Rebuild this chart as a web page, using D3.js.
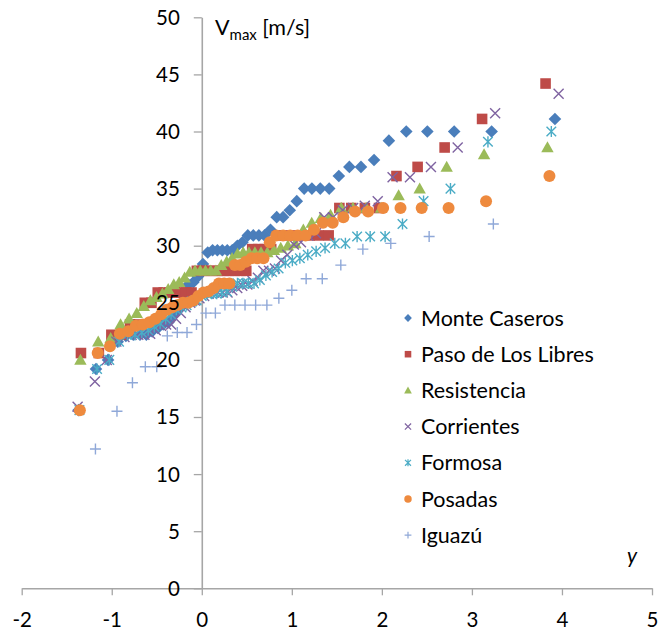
<!DOCTYPE html>
<html><head><meta charset="utf-8">
<script src="https://cdn.jsdelivr.net/npm/d3@7"></script>
<style>body{margin:0;background:#fff} text{font-family:Lato,'Open Sans',sans-serif;fill:#000}</style>
</head><body><svg id="c" width="659" height="630"></svg>
<script>
// ---- data (reduced variate y, Vmax m/s) ----
const seriesNames = ["Monte Caseros","Paso de Los Libres","Resistencia","Corrientes","Formosa","Posadas","Iguazú"];
const xTicks = [-2,-1,0,1,2,3,4,5];
const yTicks = [0,5,10,15,20,25,30,35,40,45,50];

const mcX = [-1.369,-1.175,-1.041,-0.934,-0.843,-0.761,-0.686,-0.616,-0.551,-0.488,-0.428,-0.370,-0.313,-0.257,-0.202,-0.148,-0.094,-0.041,0.013,0.066,0.120,0.173,0.228,0.283,0.338,0.395,0.452,0.511,0.572,0.634,0.697,0.763,0.832,0.903,0.977,1.055,1.137,1.223,1.316,1.415,1.522,1.639,1.768,1.913,2.078,2.271,2.505,2.803,3.219,3.922];
const mcV = [15.6,19.2,20.0,21.6,22.1,22.2,22.2,22.2,22.5,22.8,23.1,23.3,23.9,24.4,25.0,26.6,26.8,27.3,28.4,29.4,29.6,29.6,29.6,29.6,29.6,30.0,30.3,30.9,30.9,30.9,30.9,31.4,32.5,32.5,33.1,33.9,35.0,35.0,35.0,35.0,36.1,36.9,36.9,37.5,39.2,40.0,40.0,40.0,40.0,41.1];

const plX = [-1.342,-1.143,-1.004,-0.893,-0.797,-0.711,-0.633,-0.559,-0.489,-0.423,-0.358,-0.296,-0.234,-0.174,-0.114,-0.055,0.004,0.064,0.123,0.183,0.243,0.305,0.367,0.430,0.494,0.560,0.628,0.698,0.771,0.848,0.928,1.013,1.102,1.197,1.299,1.409,1.528,1.660,1.811,1.968,2.162,2.397,2.697,3.113,3.818];
const plV = [20.6,20.6,22.2,22.2,23.1,23.1,25.0,25.0,25.9,25.9,25.9,25.9,25.9,25.9,25.9,27.8,27.8,27.8,27.8,27.8,27.8,27.8,27.8,27.8,27.8,29.7,29.7,29.7,29.7,30.9,30.9,30.9,30.9,30.9,30.9,30.9,33.3,33.3,33.3,33.3,36.1,36.9,38.6,41.1,44.2];

const reX = [-1.348,-1.150,-1.012,-0.902,-0.807,-0.722,-0.644,-0.571,-0.503,-0.437,-0.373,-0.311,-0.251,-0.191,-0.133,-0.075,-0.017,0.041,0.099,0.157,0.216,0.276,0.336,0.397,0.460,0.524,0.590,0.658,0.728,0.801,0.877,0.956,1.039,1.128,1.221,1.322,1.430,1.549,1.679,1.825,1.991,2.186,2.420,2.720,3.135,3.839];
const reV = [20.0,21.6,21.9,23.1,23.6,24.1,24.7,25.2,25.5,25.8,26.2,26.6,26.8,27.2,27.7,27.8,27.8,27.8,27.8,27.8,28.3,28.6,28.9,29.3,29.4,29.4,29.4,29.4,29.4,29.6,29.8,30.0,30.2,31.4,32.0,32.4,32.7,33.3,33.3,33.3,33.3,34.4,35.0,36.9,38.0,38.6];

const coX = [-1.379,-1.187,-1.055,-0.949,-0.859,-0.779,-0.705,-0.637,-0.573,-0.512,-0.453,-0.396,-0.340,-0.286,-0.233,-0.180,-0.128,-0.077,-0.026,0.026,0.077,0.129,0.181,0.233,0.286,0.339,0.394,0.449,0.506,0.564,0.623,0.684,0.747,0.812,0.880,0.950,1.023,1.101,1.182,1.268,1.360,1.458,1.565,1.681,1.810,1.954,2.119,2.312,2.545,2.842,3.258,3.963];
const coV = [15.9,18.1,20.0,21.6,22.0,22.2,22.2,22.2,22.3,22.6,23.0,23.1,23.1,23.6,24.1,24.6,25.0,25.2,25.4,25.6,25.8,25.9,25.9,25.9,25.9,26.1,26.3,26.5,26.6,26.9,27.2,27.8,27.8,28.0,28.7,29.2,30.1,30.3,30.9,31.1,32.5,32.5,33.1,33.3,33.5,33.9,36.0,36.0,36.9,38.6,41.6,43.3];

const foX = [-1.359,-1.163,-1.027,-0.919,-0.825,-0.742,-0.666,-0.595,-0.528,-0.463,-0.401,-0.341,-0.283,-0.225,-0.169,-0.113,-0.057,-0.001,0.054,0.110,0.166,0.222,0.279,0.337,0.396,0.456,0.517,0.580,0.645,0.712,0.781,0.853,0.928,1.006,1.089,1.177,1.270,1.369,1.477,1.595,1.725,1.870,2.036,2.229,2.463,2.762,3.178,3.882];
const foV = [15.6,19.2,20.0,21.6,22.2,22.2,22.4,22.6,22.9,23.2,23.6,24.0,24.4,24.6,24.8,25.1,25.2,25.6,25.8,25.8,25.8,25.9,26.0,26.4,26.7,26.7,26.7,26.7,27.0,27.4,27.7,28.0,28.5,28.7,28.9,29.2,29.5,29.8,30.2,30.2,30.8,30.8,30.8,31.9,33.9,35.0,39.1,40.0];

const poX = [-1.354,-1.156,-1.020,-0.910,-0.816,-0.732,-0.655,-0.583,-0.515,-0.450,-0.387,-0.327,-0.267,-0.209,-0.151,-0.094,-0.037,0.019,0.076,0.133,0.190,0.248,0.307,0.367,0.427,0.489,0.553,0.618,0.685,0.755,0.827,0.903,0.982,1.065,1.152,1.246,1.346,1.454,1.572,1.702,1.847,2.014,2.207,2.442,2.741,3.157,3.861];
const poV = [15.6,20.6,21.2,22.3,22.5,23.0,23.1,23.3,23.6,24.0,24.4,24.6,24.8,25.0,25.0,25.2,25.6,25.9,26.0,26.3,26.7,26.7,26.7,28.3,28.3,28.6,28.9,28.9,28.9,30.3,30.9,30.9,30.9,30.9,30.9,31.4,32.0,32.0,32.5,33.0,33.0,33.3,33.3,33.3,33.3,33.9,36.1];

const igX = [-1.181,-0.942,-0.770,-0.627,-0.500,-0.383,-0.272,-0.164,-0.059,0.046,0.151,0.257,0.367,0.480,0.598,0.723,0.856,1.000,1.159,1.338,1.544,1.789,2.099,2.525,3.238];
const igV = [12.2,15.5,18.0,19.4,19.4,22.1,22.4,22.4,23.1,24.1,24.1,24.8,24.8,24.8,24.8,24.8,25.4,26.1,27.1,27.1,28.3,29.7,30.2,30.8,31.9];

const seriesX = [mcX, plX, reX, coX, foX, poX, igX];
const seriesV = [mcV, plV, reV, coV, foV, poV, igV];

// ---- styles ----
const colors = ["#4A7EBB","#BE4B48","#9BBB59","#7F63A1","#4BACC6","#EE8A3E","#8FA8D8"];
const shapes = ["diamond","square","triangle","x","asterisk","circle","plus"];
function shapePath(kind, s){
  switch(kind){
    case "diamond": return `M0,${-6.3*s}L${6.3*s},0L0,${6.3*s}L${-6.3*s},0Z`;
    case "square": return `M${-5.3*s},${-5.3*s}H${5.3*s}V${5.3*s}H${-5.3*s}Z`;
    case "triangle": return `M0,${-6.2*s}L${6.2*s},${4.8*s}L${-6.2*s},${4.8*s}Z`;
    case "circle": { const r=6*s; return `M${r},0A${r},${r} 0 1,1 ${-r},0A${r},${r} 0 1,1 ${r},0Z`; }
    case "x": return `M${-5*s},${-5*s}L${5*s},${5*s}M${-5*s},${5*s}L${5*s},${-5*s}`;
    case "asterisk": return `M${-4.8*s},${-4.8*s}L${4.8*s},${4.8*s}M${-4.8*s},${4.8*s}L${4.8*s},${-4.8*s}M0,${-5.6*s}V${5.6*s}`;
    case "plus": return `M${-5.5*s},0H${5.5*s}M0,${-5.5*s}V${5.5*s}`;
  }
}
const stroked = k => (k==="x"||k==="asterisk"||k==="plus");

const svg = d3.select("#c");
const x = d3.scaleLinear().domain([-2,5]).range([21.7,652]);
const y = d3.scaleLinear().domain([0,50]).range([588.3,17.3]);
const axisColor = "#A6A6A6";
const fmt = d => String(d);

// axis lines and ticks (under markers)
const under = svg.append("g");
under.append("g").attr("transform",`translate(${x(0)},0)`)
  .call(d3.axisLeft(y).tickValues(yTicks).tickSize(8).tickSizeOuter(0).tickFormat(""))
  .call(a=>{a.selectAll("path").attr("stroke",axisColor).attr("stroke-width",1.6);a.selectAll("line").attr("stroke",axisColor).attr("stroke-width",1.3);});
under.append("g").attr("transform",`translate(0,${y(0)})`)
  .call(d3.axisBottom(x).tickValues(xTicks).tickSize(7).tickSizeOuter(0).tickFormat(""))
  .call(a=>{a.selectAll("path").attr("stroke",axisColor).attr("stroke-width",1.6);a.selectAll("line").attr("stroke",axisColor).attr("stroke-width",1.3);});

// markers
const plot = svg.append("g");
seriesX.forEach((xs,i)=>{
  const pts = xs.map((v,j)=>({x:v, v:seriesV[i][j]}));
  const k = shapes[i];
  plot.append("g").selectAll("path").data(pts).join("path")
    .attr("transform",d=>`translate(${x(d.x)},${y(d.v)})`)
    .attr("d",shapePath(k,1))
    .attr("fill",stroked(k)?"none":colors[i])
    .attr("stroke",stroked(k)?colors[i]:"none")
    .attr("stroke-width",stroked(k)?1.4:0);
});

// tick labels on top
const gy = svg.append("g").attr("transform",`translate(${x(0)},0)`)
  .call(d3.axisLeft(y).tickValues(yTicks).tickSize(8).tickSizeOuter(0).tickPadding(14).tickFormat(fmt));
const gx = svg.append("g").attr("transform",`translate(0,${y(0)})`)
  .call(d3.axisBottom(x).tickValues(xTicks).tickSize(7).tickSizeOuter(0).tickPadding(17).tickFormat(fmt));
[gx,gy].forEach(g=>{
  g.select("path.domain").remove();
  g.selectAll(".tick line").remove();
  g.selectAll(".tick text").attr("font-size",20.5).attr("font-family","Lato,'Open Sans',sans-serif").attr("fill","#000");
});
gy.selectAll(".tick text").attr("dy","0.34em");

// legend
const leg = svg.append("g");
seriesNames.forEach((n,i)=>{
  const cy = 318 + i*36.2;
  const k = shapes[i];
  leg.append("path").attr("transform",`translate(408,${cy})`).attr("d",shapePath(k,0.62))
    .attr("fill",stroked(k)?"none":colors[i]).attr("stroke",stroked(k)?colors[i]:"none").attr("stroke-width",stroked(k)?1.2:0);
  leg.append("text").attr("x",421).attr("y",cy).attr("dy","0.35em").attr("font-size",21.5).text(n);
});

// axis titles
const t = svg.append("text").attr("x",215).attr("y",35).attr("font-size",21.5);
t.append("tspan").text("V");
t.append("tspan").attr("font-size",15).attr("dy",5).text("max");
t.append("tspan").attr("dy",-5).text(" [m/s]");
svg.append("text").attr("x",627).attr("y",563).attr("font-size",21).attr("font-style","italic").text("y");
</script></body></html>
